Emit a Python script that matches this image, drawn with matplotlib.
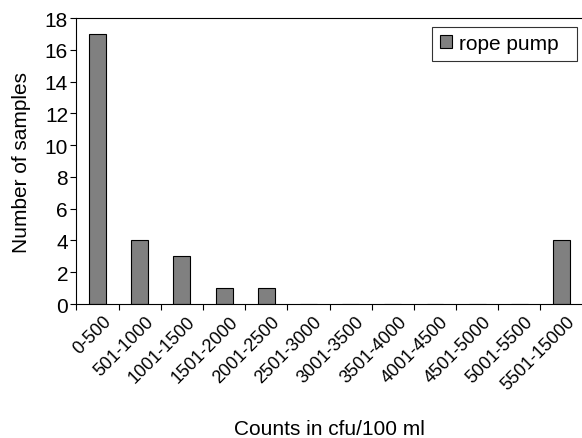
import matplotlib
matplotlib.use("Agg")
import matplotlib.pyplot as plt
import matplotlib.transforms as mtransforms
import numpy as np

categories = ["0-500", "501-1000", "1001-1500", "1501-2000", "2001-2500", "2501-3000",
              "3001-3500", "3501-4000", "4001-4500", "4501-5000", "5001-5500", "5501-15000"]
rope_pump = [17, 4, 3, 1, 1, 0, 0, 0, 0, 0, 0, 4]
y_ticks = list(range(0, 19, 2))

plt.rcParams['font.family'] = ['Liberation Sans', 'DejaVu Sans']

fig = plt.figure(figsize=(5.82, 4.39), dpi=100)
ax = fig.add_axes([0.1313, 0.3052, 0.8698, 0.6515])

x = np.arange(len(categories))
ax.bar(x, rope_pump, width=0.4, color="#808080", edgecolor="black", linewidth=0.8, label="rope pump  ")

ax.set_xlim(-0.5, len(categories) - 0.5)
ax.set_ylim(0, 18)
ax.set_yticks(y_ticks)
ax.tick_params(axis='y', labelsize=15, direction='out', length=4, width=0.8, pad=2)

ax.set_xticks(np.arange(len(categories) + 1) - 0.5)
ax.set_xticklabels([])
ax.tick_params(axis='x', which='major', direction='out', length=4, width=0.8)
ax.set_xticks(x, minor=True)
ax.set_xticklabels(categories, minor=True, rotation=45, ha='right', rotation_mode='anchor', fontsize=13)
ax.tick_params(axis='x', which='minor', length=0, pad=6)
offset = mtransforms.ScaledTranslation(5 / 100, 0, fig.dpi_scale_trans)
for lbl in ax.get_xticklabels(minor=True):
    lbl.set_transform(lbl.get_transform() + offset)

for s in ax.spines.values():
    s.set_linewidth(0.8)
ax.spines['right'].set_visible(False)

ax.set_ylabel("Number of samples", fontsize=15, labelpad=10)
ax.set_xlabel("Counts in cfu/100 ml", fontsize=15, labelpad=19)

leg = ax.legend(loc='upper right', fontsize=15, frameon=True, fancybox=False, edgecolor='black',
                handlelength=0.58, handleheight=0.58, handletextpad=0.35, borderpad=0.35,
                borderaxespad=0, bbox_to_anchor=(0.9895, 0.9685))
leg.get_frame().set_linewidth(0.8)

fig.savefig("out.png", dpi=100)
